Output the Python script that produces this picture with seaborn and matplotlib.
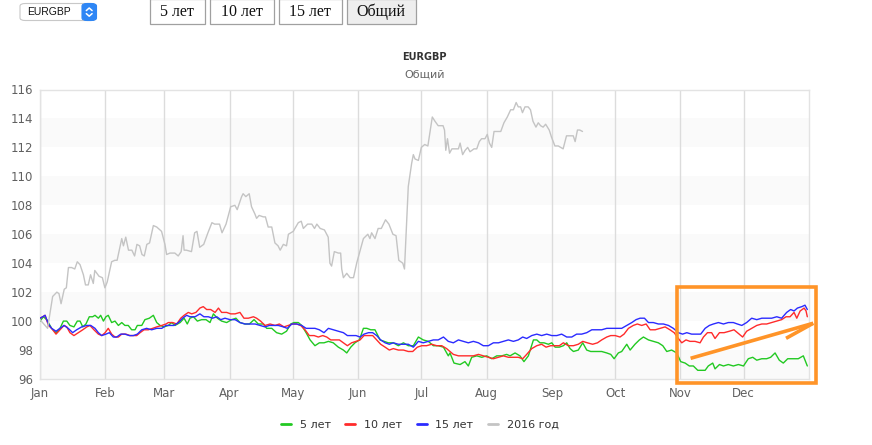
import matplotlib
matplotlib.use('Agg')
import matplotlib.pyplot as plt
from matplotlib.patches import Rectangle, FancyBboxPatch
from matplotlib.lines import Line2D
import seaborn as sns
import pandas as pd

W, H = 872, 445

months = ['Jan', 'Feb', 'Mar', 'Apr', 'May', 'Jun', 'Jul', 'Aug', 'Sep', 'Oct', 'Nov', 'Dec']
month_starts = [0, 31, 59, 90, 120, 151, 181, 212, 243, 273, 304, 334]
y_ticks = [96, 98, 100, 102, 104, 106, 108, 110, 112, 114, 116]
series_names = ['5 лет', '10 лет', '15 лет', '2016 год']
buttons = ['5 лет', '10 лет', '15 лет', 'Общий']

# 2016 год (ends mid-September)
gray_days = [0, 3.6, 5, 6, 8, 9, 10, 11.5, 12.5, 13.5, 15, 16.5, 17.7, 19, 20.6, 21.6, 22.9, 24, 25.3, 26,
             28, 29.6, 30.8, 31.9, 34, 35.5, 36.6, 38.8, 39.6, 40.7, 42, 43.6, 44.9, 46, 47.3, 48.4, 49.5,
             50.7, 52, 53.8, 55.4, 57.7, 59.3, 60.1, 61.7, 64, 65.6, 67, 67.9, 68.4, 69.5, 71.9, 73.4, 74.5,
             75.8, 77.7, 79.7, 81.6, 82.9, 85.2, 86.4, 88.3, 90.5, 92.5, 93.6, 95.7, 96.4, 97.7, 99.3, 100.4,
             102, 102.8, 104, 106, 107, 108.3, 110, 111.5, 113, 114, 115.5, 117, 117.9, 120.2, 122.6, 124,
             125, 127, 129, 130.3, 131.4, 133, 135, 136.8, 137.6, 138.4, 139.7, 141.6, 142.7, 143.2, 144,
             145.6, 147.2, 148.8, 150.3, 152, 153.5, 155.6, 156.6, 157.4, 159, 160.5, 162, 164, 165.6, 167.5,
             169, 170.3, 172.2, 173, 174.8, 176.4, 177.2, 178, 179.6, 181, 182.6, 184.1, 186.2, 187.5, 189,
             191.3, 192, 192.6, 193.4, 194.4, 195.5, 197, 198.6, 199.4, 200.6, 201.8, 203, 204.1, 206, 207.3,
             208.5, 209.6, 211.2, 212.3, 213.3, 214.4, 215.5, 216.8, 218.7, 220.2, 221.8, 223.4, 224.7, 226,
             227, 228.1, 229, 230.2, 231.7, 232.8, 234, 235.4, 236.5, 237.6, 238.8, 240, 241.7, 242.8, 244.4,
             246, 248.3, 249.9, 251.5, 253.1, 254, 255.1, 256.2, 257.5]
gray_vals = [100.1, 99.5, 100.8, 101.7, 102.0, 101.9, 101.2, 102.2, 102.3, 103.7, 103.7, 103.6, 104.1, 103.9,
             103.2, 102.5, 102.5, 103.2, 102.6, 103.5, 103.1, 103.0, 102.3, 102.7, 104.1, 104.2, 104.2, 105.7,
             105.2, 105.8, 104.9, 104.9, 104.5, 105.3, 105.2, 104.6, 104.5, 105.3, 105.4, 106.6, 106.5, 106.2,
             105.3, 104.6, 104.7, 104.7, 104.5, 104.8, 105.9, 104.9, 104.9, 104.8, 106.1, 106.2, 105.1, 105.3,
             106.1, 106.8, 106.7, 106.7, 106.1, 106.7, 107.9, 108.0, 107.7, 108.6, 108.8, 108.6, 108.8, 107.9,
             107.4, 107.1, 107.3, 107.2, 107.2, 106.5, 106.5, 105.4, 105.2, 104.9, 105.3, 105.2, 106.0, 106.2,
             106.8, 106.9, 106.4, 106.7, 106.7, 106.4, 106.7, 106.4, 106.3, 105.8, 104.0, 103.8, 104.8, 104.7,
             104.7, 103.6, 103.0, 103.3, 103.0, 103.0, 104.0, 104.9, 105.7, 106.0, 105.7, 106.1, 105.7, 106.4,
             106.4, 107.0, 106.7, 106.0, 105.9, 104.2, 104.0, 103.6, 109.3, 110.9, 111.5, 111.2, 111.1, 112.0,
             112.2, 112.1, 114.1, 113.8, 113.5, 113.5, 113.2, 111.8, 112.6, 111.6, 111.9, 111.9, 111.9, 112.3,
             111.5, 111.8, 112.0, 111.7, 111.9, 111.9, 112.4, 112.6, 112.6, 112.9, 112.3, 112.0, 113.1, 113.1,
             113.1, 113.7, 114.1, 114.6, 114.6, 115.1, 114.8, 114.8, 114.4, 114.8, 114.8, 114.6, 113.8, 113.4,
             113.7, 113.5, 113.4, 113.6, 113.2, 112.7, 112.1, 112.1, 111.9, 112.8, 112.8, 112.8, 112.4, 113.2,
             113.2, 113.1]

# 5 лет
green_days = [0, 1.6, 3.2, 5.5, 7.6, 9.5, 11.1, 12.7, 14.2, 16.1, 17.7, 19, 20.3, 21.8, 23.4, 25, 26.1, 27.7,
              28.8, 30.1, 31.3, 32.4, 34, 35.6, 37.2, 38.8, 40.3, 41.9, 43.5, 45.1, 46.2, 48.3, 49.8, 51.9,
              53.8, 55.4, 57, 58.9, 60.9, 62.5, 64.1, 66.5, 68.4, 69.9, 71.2, 72.8, 74.7, 76.7, 78.8, 80.7,
              82.3, 84.2, 86.2, 88.6, 91, 93, 94.9, 97.3, 99.4, 101.6, 103.6, 106, 107.6, 110, 112.3, 114.7,
              117, 119, 120.6, 122.6, 124.2, 126.3, 128.2, 130.5, 132.6, 134.8, 136.9, 139.2, 141.6, 144,
              145.6, 147.5, 149.5, 151.6, 153.5, 155.1, 157, 159, 161.4, 163.3, 165.3, 167.7, 170.1, 172.5,
              174.8, 177.2, 179.6, 181.9, 184.3, 186.7, 189, 191.5, 193.8, 194.6, 196.5, 199.4, 201.7, 203.3,
              204.9, 207.3, 209.7, 212, 214.4, 216.8, 219.2, 221.5, 223.1, 225.5, 227.8, 229.7, 231.8, 234.2,
              235.8, 237.3, 239.2, 241.3, 242.9, 244.5, 246.5, 248.4, 250, 251.6, 253.2, 255.5, 257.6, 259.5,
              261.4, 264.2, 266.6, 269, 270.9, 272.5, 274.5, 276.1, 278.5, 280.1, 282.4, 284.5, 286.4, 288.8,
              291.1, 293.5, 295.6, 297.5, 299.8, 302.2, 304.1, 306.2, 308.2, 310.1, 312.2, 314.1, 315.7,
              317.2, 319.3, 320.4, 322.5, 324.4, 326.7, 329.1, 331.5, 333.9, 336.2, 338.3, 340.2, 342.6,
              344.9, 346.8, 348.9, 350.9, 352.8, 354.9, 357.3, 359.9, 362.3, 364.2]
green_vals = [100.0, 100.3, 100.1, 99.5, 99.2, 99.5, 100.0, 100.0, 99.7, 99.6, 100.0, 100.0, 99.6, 99.8, 100.3,
              100.3, 100.4, 100.2, 100.4, 100.0, 100.3, 100.4, 99.9, 100.0, 99.7, 99.9, 99.7, 99.7, 99.4, 99.4,
              99.7, 99.7, 100.1, 100.2, 100.4, 99.9, 99.7, 99.6, 99.7, 99.9, 99.7, 99.9, 100.2, 99.8, 100.2,
              100.3, 100.0, 100.1, 100.1, 99.9, 100.5, 100.2, 100.0, 99.9, 100.1, 100.2, 99.9, 99.8, 99.8,
              100.1, 99.8, 99.8, 99.5, 99.5, 99.2, 99.1, 99.3, 99.8, 99.9, 99.9, 99.7, 99.2, 98.7, 98.3, 98.5,
              98.5, 98.6, 98.5, 98.2, 98.0, 97.8, 98.2, 98.5, 98.7, 99.5, 99.5, 99.4, 99.4, 98.7, 98.6, 98.5,
              98.5, 98.3, 98.5, 98.3, 98.3, 98.9, 98.7, 98.6, 98.3, 98.3, 98.2, 97.6, 97.8, 97.1, 97.0, 97.2,
              96.9, 97.5, 97.6, 97.5, 97.6, 97.4, 97.6, 97.6, 97.7, 97.6, 97.8, 97.6, 97.2, 97.6, 98.7, 98.7,
              98.5, 98.5, 98.4, 98.5, 98.2, 98.2, 98.3, 98.5, 98.1, 97.9, 98.0, 98.5, 98.0, 97.9, 97.9, 97.9,
              97.8, 97.7, 97.4, 97.8, 97.9, 98.4, 98.0, 98.4, 98.7, 98.9, 98.7, 98.6, 98.5, 98.3, 97.9, 98.0,
              97.8, 97.2, 97.1, 96.9, 96.9, 96.6, 96.6, 96.6, 96.9, 97.1, 96.7, 97.0, 96.9, 97.0, 96.9, 97.0,
              96.9, 97.4, 97.5, 97.3, 97.4, 97.4, 97.5, 97.8, 97.3, 97.1, 97.4, 97.4, 97.4, 97.6, 96.9]

# 10 лет
red_days = [0, 1.3, 2.4, 4, 5.5, 7.6, 9.5, 11.4, 12.7, 14.2, 16.1, 18.2, 20.3, 22.2, 23.7, 25.6, 27.7, 29.3,
            30.9, 32.4, 34, 35.6, 37.2, 38.8, 40.8, 42.7, 44.3, 45.9, 47.5, 49.4, 51.4, 53.5, 55.4, 57.8, 59.8,
            60.9, 63, 64.9, 66.8, 68.4, 70.4, 72, 74, 75.9, 77.5, 79.1, 81, 83.1, 84.7, 86.2, 88.6, 90.5, 92.6,
            94.9, 96.8, 98.9, 101.3, 102.8, 104.7, 106.8, 109.2, 111.6, 113.6, 115.8, 117.9, 119.9, 121.8,
            123.7, 125.8, 127.8, 130.1, 132.1, 134.2, 136.1, 138, 140, 142.1, 144, 145.9, 147.9, 150, 151.9,
            153.8, 155.9, 157.9, 159.8, 161.7, 163.8, 165.8, 167.7, 170.1, 172.5, 174.8, 176.9, 179.1, 181.2,
            183.5, 185.9, 188.3, 190.7, 193, 194.6, 196.2, 198.6, 201, 203.3, 205.7, 208.1, 210.4, 212.8,
            215.2, 217.6, 219.9, 222.3, 224.7, 227, 229.1, 231, 233.4, 235.8, 238.1, 240.2, 242.4, 244.5,
            246.5, 248.4, 250.8, 253.2, 255.5, 257.6, 259.8, 262.3, 264.6, 266.6, 269, 270.9, 273, 275.3,
            277.2, 279.3, 281.6, 283.5, 285.6, 287.7, 289.6, 292, 294.3, 296.7, 299, 301, 303, 304.6, 306.6,
            308.5, 310.9, 313.3, 314.9, 316.8, 318.8, 320.4, 322.5, 324.7, 327.2, 329.4, 331.9, 333.5, 335.4,
            337.8, 340.2, 342.6, 344.9, 347.3, 349.7, 352, 354.1, 356, 357.9, 359.2, 360.8, 362.7, 363.6, 364.2]
red_vals = [100.2, 100.3, 100.4, 99.7, 99.5, 99.1, 99.4, 99.7, 99.6, 99.2, 99.0, 99.2, 99.4, 99.6, 99.7, 99.4,
            99.1, 99.0, 99.2, 99.5, 99.1, 98.9, 98.9, 99.1, 99.1, 99.0, 99.0, 99.0, 99.2, 99.4, 99.4, 99.5, 99.6,
            99.7, 99.8, 99.9, 99.9, 99.8, 100.2, 100.4, 100.6, 100.5, 100.6, 100.9, 101.0, 100.8, 100.8, 100.6,
            100.9, 100.6, 100.6, 100.5, 100.5, 100.6, 100.2, 100.2, 100.3, 100.2, 100.0, 99.7, 99.8, 99.7, 99.8,
            99.6, 99.7, 99.8, 99.8, 99.7, 99.4, 99.0, 99.0, 98.9, 99.0, 98.9, 98.7, 98.7, 98.7, 98.5, 98.3,
            98.5, 98.6, 98.7, 99.0, 99.0, 99.0, 98.7, 98.4, 98.2, 98.0, 98.1, 98.0, 98.0, 97.9, 97.9, 98.2,
            98.3, 98.3, 98.4, 98.3, 98.3, 98.1, 97.9, 97.7, 97.6, 97.6, 97.6, 97.6, 97.7, 97.6, 97.5, 97.4,
            97.5, 97.6, 97.5, 97.5, 97.5, 97.4, 97.7, 98.1, 98.3, 98.4, 98.2, 98.3, 98.3, 98.3, 98.5, 98.3,
            98.3, 98.4, 98.6, 98.5, 98.4, 98.5, 98.7, 98.9, 99.0, 99.0, 98.9, 99.1, 99.5, 99.7, 99.8, 99.7,
            99.8, 99.4, 99.4, 99.5, 99.6, 99.4, 99.2, 98.8, 98.5, 98.7, 98.6, 98.6, 98.5, 98.9, 99.2, 99.2,
            98.8, 99.2, 99.2, 99.3, 99.4, 99.1, 98.9, 99.3, 99.5, 99.7, 99.8, 99.8, 99.9, 100.0, 100.1, 100.3,
            100.3, 100.6, 100.2, 100.7, 100.9, 100.7, 100.3]

# 15 лет
blue_days = [0, 1.3, 2.4, 4, 5.5, 7.6, 9.5, 11.4, 13.4, 15.5, 17.4, 19.8, 22.2, 24.1, 26.1, 27.7, 29.3, 31.3,
             32.9, 34.8, 36.4, 38.3, 40.3, 42.4, 44.3, 46.2, 48.3, 50.6, 53, 55.4, 57.8, 59.8, 61.7, 63.6, 65.7,
             67.7, 69.6, 71.2, 73.6, 75.9, 77.8, 79.9, 81.9, 83.9, 85.8, 87.8, 90.2, 92.6, 94.9, 97.3, 99.7,
             102.1, 104.4, 106.8, 108.9, 110.8, 113.1, 115.5, 117.4, 119.5, 121.8, 124.2, 126.3, 128.2, 130.5,
             132.6, 134.8, 136.9, 139.2, 141.6, 144, 145.9, 147.9, 150, 151.9, 153.8, 155.9, 157.9, 159.8,
             161.7, 163.8, 165.8, 167.7, 170.1, 172.5, 174.8, 177.2, 179.6, 181.9, 184.3, 186.7, 189, 191.5,
             193.8, 196.2, 198.6, 201, 203.3, 205.7, 208.1, 210.4, 212.8, 215.2, 217.6, 219.9, 222.3, 224.7,
             227, 229.1, 231, 233.4, 235.8, 238.1, 240.5, 242.9, 245.3, 247.6, 250, 252.4, 254.7, 257.1, 259.5,
             261.9, 264.2, 266.6, 269, 271.4, 273.7, 276.1, 278.5, 280.9, 282.9, 284.8, 286.9, 288.8, 291.1,
             293.5, 295.9, 298.3, 300.6, 303, 305, 307, 309.3, 311.7, 313.6, 315.7, 317.7, 319.6, 322, 324.4,
             326.7, 329.1, 331, 333.1, 335.4, 337.8, 340.2, 342.6, 344.9, 347.3, 349.7, 352, 354.4, 356.3,
             357.9, 359.5, 361.6, 363.1, 364.2]
blue_vals = [100.2, 100.3, 100.4, 99.8, 99.5, 99.3, 99.5, 99.7, 99.5, 99.2, 99.4, 99.6, 99.7, 99.7, 99.5, 99.2,
             99.0, 99.1, 99.2, 98.9, 98.9, 99.1, 99.1, 99.0, 99.0, 99.1, 99.4, 99.5, 99.4, 99.5, 99.5, 99.7,
             99.7, 99.7, 99.9, 100.2, 100.4, 100.3, 100.3, 100.5, 100.3, 100.3, 100.2, 100.3, 100.1, 100.2,
             100.1, 100.1, 99.9, 99.8, 99.8, 99.8, 99.7, 99.6, 99.7, 99.7, 99.7, 99.6, 99.5, 99.8, 99.8, 99.7,
             99.5, 99.5, 99.5, 99.4, 99.2, 99.5, 99.4, 99.3, 99.2, 99.0, 99.0, 99.0, 98.9, 99.1, 99.2, 99.2,
             99.0, 98.7, 98.5, 98.4, 98.5, 98.4, 98.4, 98.4, 98.2, 98.6, 98.5, 98.6, 98.7, 98.7, 98.9, 98.6,
             98.5, 98.7, 98.6, 98.5, 98.6, 98.5, 98.3, 98.3, 98.5, 98.5, 98.6, 98.7, 98.6, 98.7, 98.9, 98.8,
             99.0, 99.1, 99.0, 99.1, 99.0, 99.0, 99.1, 98.9, 98.9, 99.1, 99.1, 99.2, 99.4, 99.4, 99.4, 99.5,
             99.5, 99.5, 99.5, 99.7, 99.9, 100.1, 100.2, 100.2, 99.9, 99.9, 99.8, 99.8, 99.7, 99.5, 99.2, 99.1,
             99.2, 99.1, 99.1, 99.1, 99.5, 99.7, 99.8, 99.9, 99.8, 99.9, 99.9, 99.8, 99.7, 99.9, 100.2, 100.1,
             100.2, 100.2, 100.2, 100.3, 100.2, 100.6, 100.8, 100.7, 100.9, 101.0, 101.1, 100.8]

palette = {'5 лет': '#22c922', '10 лет': '#ff2b2b', '15 лет': '#2b2bff', '2016 год': '#c4c4c4'}
orange = '#ff9428'

frames = []
for name, d, v in [('5 лет', green_days, green_vals), ('10 лет', red_days, red_vals),
                   ('15 лет', blue_days, blue_vals), ('2016 год', gray_days, gray_vals)]:
    frames.append(pd.DataFrame({'day': d, 'value': v, 'series': name}))
df = pd.concat(frames, ignore_index=True)

sns.set_theme(style='white')
plt.rcParams['font.family'] = ['DejaVu Sans']

fig = plt.figure(figsize=(W / 100, H / 100), dpi=100)
ax = fig.add_axes([40 / W, 1 - 379 / H, 769 / W, 289.5 / H])

# alternating bands and month grid
for lo in y_ticks[:-1:2]:
    ax.axhspan(lo, lo + 2, color='#fafafa', lw=0, zorder=0)
for m in month_starts:
    ax.axvline(m, color='#dcdcdc', lw=1, zorder=1)

sns.lineplot(data=df, x='day', y='value', hue='series', hue_order=series_names, palette=palette,
             estimator=None, linewidth=1, ax=ax, zorder=3)

ax.set_xlim(0, 365)
ax.set_ylim(96, 116)
ax.set_xticks(month_starts)
ax.set_xticklabels(months)
ax.set_yticks(y_ticks)
ax.set_xlabel('')
ax.set_ylabel('')
ax.tick_params(axis='both', length=0, labelsize=8.5, labelcolor='#606060')
ax.tick_params(axis='x', pad=6)
ax.tick_params(axis='y', pad=5)
for s in ax.spines.values():
    s.set_color('#e3e3e3')
    s.set_linewidth(1)

sns.move_legend(ax, 'center', bbox_to_anchor=(0.494, -0.159), ncol=4, frameon=False, title=None,
                fontsize=8, handlelength=0.9, handletextpad=0.8, columnspacing=1.3)
leg = ax.get_legend()
for h in leg.legend_handles:
    h.set_linewidth(2)
for t in leg.get_texts():
    t.set_color('#333333')

# highlight added on the screenshot
box_x0, box_x1, box_y0, box_y1 = 302.5, 368.3, 95.7, 102.38
ax.add_patch(Rectangle((box_x0, box_y0), box_x1 - box_x0, box_y1 - box_y0, fill=False,
                       ec=orange, lw=2.6, clip_on=False, zorder=6))
ax.plot([308.8, 367.0], [97.43, 99.85], color=orange, lw=2.6, clip_on=False, zorder=6,
        solid_capstyle='butt')
ax.plot([354.1, 367.0], [98.81, 99.85], color=orange, lw=2.6, clip_on=False, zorder=6,
        solid_capstyle='butt')

# titles
fig.text(424.5 / W, 1 - 57 / H, 'EURGBP', ha='center', va='center', fontsize=7,
         fontweight='bold', color='#333333')
fig.text(424.5 / W, 1 - 75 / H, 'Общий', ha='center', va='center', fontsize=8, color='#666666')

# page controls above the chart
fig.patches.append(FancyBboxPatch((20 / W, 1 - 20.5 / H), 76 / W, 17 / H,
                                  boxstyle='round,pad=0,rounding_size=0.006', fc='white',
                                  ec='#c8c8c8', lw=0.8, transform=fig.transFigure, figure=fig))
fig.patches.append(FancyBboxPatch((82 / W, 1 - 20.5 / H), 14.5 / W, 17 / H,
                                  boxstyle='round,pad=0,rounding_size=0.006', fc='#2e86f5',
                                  ec='#2e86f5', lw=0.8, transform=fig.transFigure, figure=fig))
# up / down chevrons in the select arrow box
for base, tip in ((10.6, 8.0), (13.6, 16.2)):
    fig.lines.append(Line2D([86.3 / W, 89.2 / W, 92.1 / W],
                            [1 - base / H, 1 - tip / H, 1 - base / H],
                            transform=fig.transFigure, color='white', lw=1.1))
fig.text(27 / W, 1 - 12 / H, 'EURGBP', ha='left', va='center', fontsize=7.5,
         family=['Liberation Sans', 'DejaVu Sans'], color='#111111')

btn_edges = [(149.5, 204.5), (209.5, 273.5), (278.5, 341.5), (346.5, 415.5)]
for label, (x0, x1) in zip(buttons, btn_edges):
    fc = '#eeeeee' if label == 'Общий' else 'white'
    fig.patches.append(Rectangle((x0 / W, 1 - 24 / H), (x1 - x0) / W, 25 / H, fc=fc, ec='#a0a0a0',
                                 lw=0.9, transform=fig.transFigure, figure=fig))
    fig.text((x0 + x1) / 2 / W, 1 - 11.5 / H, label, ha='center', va='center', fontsize=11.5,
             family=['Liberation Serif', 'DejaVu Serif'], color='#111111')

fig.savefig('out.png', dpi=100)
